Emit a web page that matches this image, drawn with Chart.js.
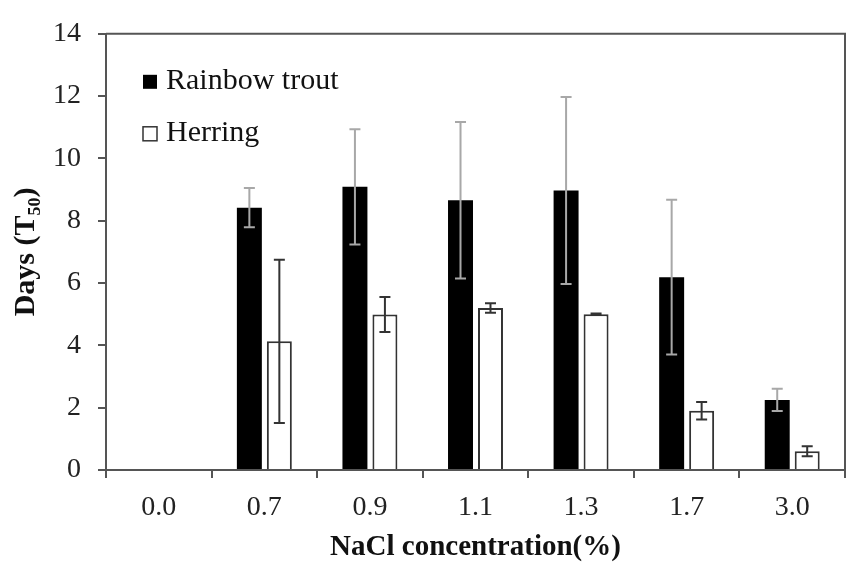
<!DOCTYPE html>
<html>
<head>
<meta charset="utf-8">
<script src="https://cdn.jsdelivr.net/npm/chart.js@4/dist/chart.umd.min.js"></script>
<style>
  html, body { margin: 0; padding: 0; background: #fff; }
  .chart-container { position: relative; width: 847px; height: 562px; }
</style>
</head>
<body>
<div class="chart-container"><canvas id="myChart"></canvas></div>
<script>
// values (days to 50% mortality, T50)
const categories = ["0.0", "0.7", "0.9", "1.1", "1.3", "1.7", "3.0"];
const troutDays = [null, 8.42, 9.09, 8.66, 8.97, 6.19, 2.25];
const troutErr = [null, 0.63, 1.85, 2.51, 3.0, 2.48, 0.36];
const herringDays = [null, 4.13, 4.99, 5.2, 5.0, 1.9, 0.6];
const herringErr = [null, 2.62, 0.56, 0.15, 0.02, 0.28, 0.16];
const yTicks = [0, 2, 4, 6, 8, 10, 12, 14];

const serif = "'Liberation Serif', 'Times New Roman', serif";
const axisColor = "#555";

// error bars drawn through the y scale
const errorBars = {
  id: "errorBars",
  afterDatasetsDraw(chart) {
    const ctx = chart.ctx;
    const yScale = chart.scales.y;
    chart.data.datasets.forEach((ds, i) => {
      const meta = chart.getDatasetMeta(i);
      meta.data.forEach((bar, j) => {
        const v = ds.data[j];
        const e = ds.errors[j];
        if (v === null || e === null) return;
        const top = yScale.getPixelForValue(v + e);
        const bot = yScale.getPixelForValue(v - e);
        ctx.save();
        ctx.strokeStyle = ds.errorColor;
        ctx.lineWidth = 2;
        ctx.beginPath();
        ctx.moveTo(bar.x, top);
        ctx.lineTo(bar.x, bot);
        ctx.moveTo(bar.x - 5.5, top);
        ctx.lineTo(bar.x + 5.5, top);
        ctx.moveTo(bar.x - 5.5, bot);
        ctx.lineTo(bar.x + 5.5, bot);
        ctx.stroke();
        ctx.restore();
      });
    });
  },
};

// top/right frame plus legend inside the plot
const frameAndLegend = {
  id: "frameAndLegend",
  afterDraw(chart) {
    const ctx = chart.ctx;
    const a = chart.chartArea;
    ctx.save();
    ctx.strokeStyle = axisColor;
    ctx.lineWidth = 2;
    ctx.beginPath();
    ctx.moveTo(a.left, a.top);
    ctx.lineTo(a.right, a.top);
    ctx.lineTo(a.right, a.bottom);
    ctx.stroke();

    ctx.font = "30px " + serif;
    ctx.textBaseline = "alphabetic";
    chart.data.datasets.forEach((ds, i) => {
      const bx = a.left + 37;
      const by = a.top + 41 + i * 52;
      ctx.fillStyle = ds.backgroundColor;
      ctx.fillRect(bx, by, 14, 14);
      if (ds.borderWidth) {
        ctx.strokeStyle = "#333";
        ctx.lineWidth = 1.5;
        ctx.strokeRect(bx, by, 14, 14);
      }
      ctx.fillStyle = "#111";
      ctx.fillText(ds.label, bx + 23, by + 14);
    });
    ctx.restore();
  },
};

const ctx = document.getElementById("myChart").getContext("2d");
const myChart = new Chart(ctx, {
  type: "bar",
  data: {
    labels: categories,
    datasets: [
      {
        label: "Rainbow trout",
        data: troutDays,
        errors: troutErr,
        errorColor: "#a8a8a8",
        backgroundColor: "#000",
        borderWidth: 0,
        barPercentage: 0.833,
        categoryPercentage: 0.568,
      },
      {
        label: "Herring",
        data: herringDays,
        errors: herringErr,
        errorColor: "#333",
        backgroundColor: "#fff",
        borderColor: "#333",
        borderWidth: 2,
        barPercentage: 0.833,
        categoryPercentage: 0.568,
      },
    ],
  },
  options: {
    responsive: true,
    maintainAspectRatio: false,
    animation: false,
    layout: { padding: { top: 24, right: 2, left: 0, bottom: 0 } },
    plugins: {
      legend: { display: false },
      tooltip: { enabled: false },
    },
    scales: {
      x: {
        afterFit(scale) { scale.height = 92; },
        border: { display: true, color: axisColor, width: 2 },
        grid: { drawOnChartArea: false, tickLength: 8, color: axisColor, lineWidth: 2 },
        ticks: { font: { family: serif, size: 28 }, color: "#222", padding: 13 },
        title: {
          display: true,
          text: "NaCl concentration(%)",
          font: { family: serif, size: 29, weight: "bold", lineHeight: 1 },
          color: "#111",
          padding: { top: 1, bottom: 0 },
        },
      },
      y: {
        min: 0,
        max: 14,
        afterFit(scale) { scale.width = 106; },
        afterBuildTicks(scale) { scale.ticks = yTicks.map((v) => ({ value: v })); },
        border: { display: true, color: axisColor, width: 2 },
        grid: { drawOnChartArea: false, tickLength: 8, color: axisColor, lineWidth: 2 },
        ticks: { font: { family: serif, size: 28 }, color: "#222", padding: 17 },
        title: {
          display: true,
          text: "Days (T\u2085\u2080)",
          font: { family: serif, size: 30, weight: "bold", lineHeight: 1 },
          color: "#111",
          padding: { top: 11, bottom: 0 },
        },
      },
    },
  },
  plugins: [errorBars, frameAndLegend],
});
</script>
</body>
</html>
